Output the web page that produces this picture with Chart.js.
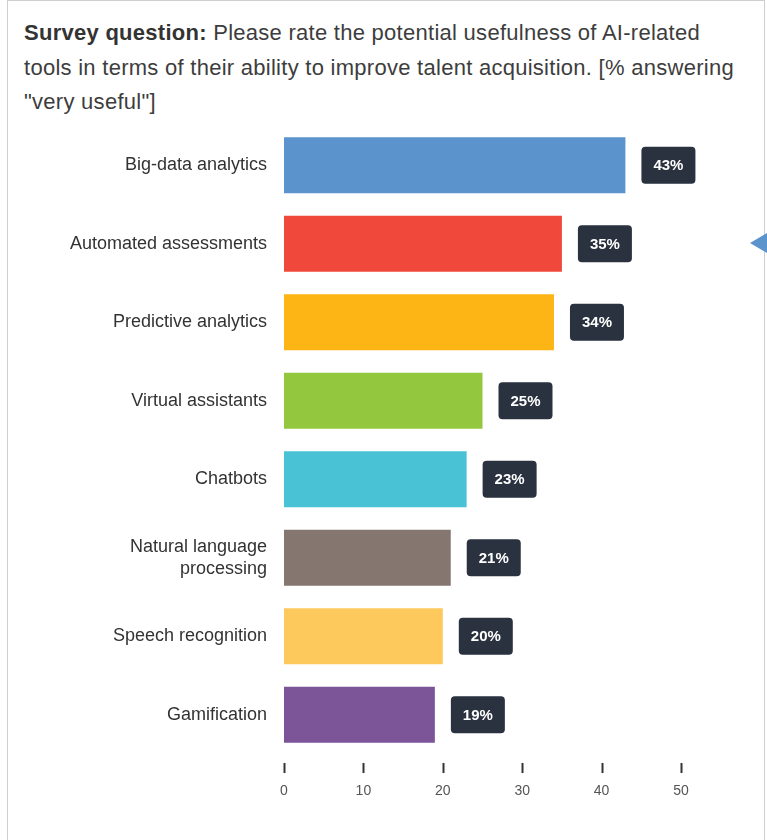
<!DOCTYPE html>
<html>
<head>
<meta charset="utf-8">
<script src="https://cdn.jsdelivr.net/npm/chart.js@4.4.0/dist/chart.umd.min.js"></script>
<style>
  html, body { margin: 0; padding: 0; background: #fff; }
  #wrap { position: relative; width: 767px; height: 840px; overflow: hidden; }
  #frame { position: absolute; left: 7px; top: 0; width: 758px; height: 845px;
           border: 1px solid #cfcfcf; box-sizing: border-box; }
  #title { position: absolute; left: 24px; top: 16px; width: 740px; white-space: nowrap;
           font-family: "Liberation Sans", Arial, sans-serif; font-size: 22px;
           letter-spacing: 0.27px; line-height: 34.5px; color: #3d3d3d; }
  #title b { color: #333; }
  #arrow { position: absolute; left: 750px; top: 233px; width: 0; height: 0;
           border-top: 10px solid transparent; border-bottom: 10px solid transparent;
           border-right: 17px solid #5b93cd; }
  canvas { position: absolute; left: 0; top: 0; }
</style>
</head>
<body>
<div id="wrap">
  <div id="frame"></div>
  <div id="title"><b>Survey question:</b> Please rate the potential usefulness of AI-related<br>tools in terms of their ability to improve talent acquisition. [% answering<br>"very useful"]</div>
  <div id="arrow"></div>
  <canvas id="chart" width="767" height="840"></canvas>
</div>
<script>
// data
var categories = ['Big-data analytics', 'Automated assessments', 'Predictive analytics',
                  'Virtual assistants', 'Chatbots', ['Natural language', 'processing'],
                  'Speech recognition', 'Gamification'];
var veryUseful = [43, 35, 34, 25, 23, 21, 20, 19];
var barColors = ['#5b93cd', '#f0483a', '#fdb515', '#93c83e', '#49c2d6', '#857670', '#fec95c', '#7b5598'];
var xTicks = [0, 10, 20, 30, 40, 50];

////////////////////////////////////////////////////////////////////////////////

// dark value boxes right of each bar
var valueBoxes = {
    id: 'valueBoxes',
    afterDatasetsDraw(chart) {
        var ctx = chart.ctx;
        var meta = chart.getDatasetMeta(0);
        ctx.save();
        meta.data.forEach(function (bar, i) {
            var w = 54, h = 37;
            var x = bar.x + 16, y = bar.y - h / 2;
            ctx.fillStyle = '#2a3240';
            ctx.beginPath();
            ctx.roundRect(x, y, w, h, 4);
            ctx.fill();
            ctx.fillStyle = '#ffffff';
            ctx.font = 'bold 15px "Liberation Sans", Arial, sans-serif';
            ctx.textAlign = 'center';
            ctx.textBaseline = 'middle';
            ctx.fillText(veryUseful[i] + '%', x + w / 2, bar.y + 1);
        });
        ctx.restore();
    }
};

// short tick marks under the plot, a bit detached from it
var tickMarks = {
    id: 'tickMarks',
    afterDraw(chart) {
        var ctx = chart.ctx;
        var xs = chart.scales.x;
        ctx.save();
        ctx.strokeStyle = '#333';
        ctx.lineWidth = 2;
        xs.ticks.forEach(function (t) {
            var px = Math.round(xs.getPixelForValue(t.value)) + 0.5;
            ctx.beginPath();
            ctx.moveTo(px, chart.chartArea.bottom + 9);
            ctx.lineTo(px, chart.chartArea.bottom + 19);
            ctx.stroke();
        });
        ctx.restore();
    }
};

var ctx = document.getElementById('chart').getContext('2d');
var chart = new Chart(ctx, {
    type: 'bar',
    data: {
        labels: categories,
        datasets: [{
            data: veryUseful,
            backgroundColor: barColors,
            borderWidth: 0,
            categoryPercentage: 1,
            barPercentage: 0.715
        }]
    },
    options: {
        indexAxis: 'y',
        responsive: false,
        animation: false,
        layout: { padding: { top: 126, right: 86, bottom: 0, left: 0 } },
        plugins: { legend: { display: false }, tooltip: { enabled: false } },
        scales: {
            x: {
                min: 0, max: 50,
                afterBuildTicks: function (s) { s.ticks = xTicks.map(function (v) { return { value: v }; }); },
                grid: { display: false },
                border: { display: false },
                ticks: {
                    padding: 21,
                    color: '#555',
                    font: { family: '"Liberation Sans", Arial, sans-serif', size: 14 }
                },
                afterFit: function (s) { s.height = 86; }
            },
            y: {
                grid: { display: false },
                border: { display: false },
                ticks: {
                    padding: 9,
                    color: '#333',
                    font: { family: '"Liberation Sans", Arial, sans-serif', size: 18, lineHeight: 1.22 }
                },
                afterFit: function (s) { s.width = 284; }
            }
        }
    },
    plugins: [valueBoxes, tickMarks]
});
</script>
</body>
</html>
